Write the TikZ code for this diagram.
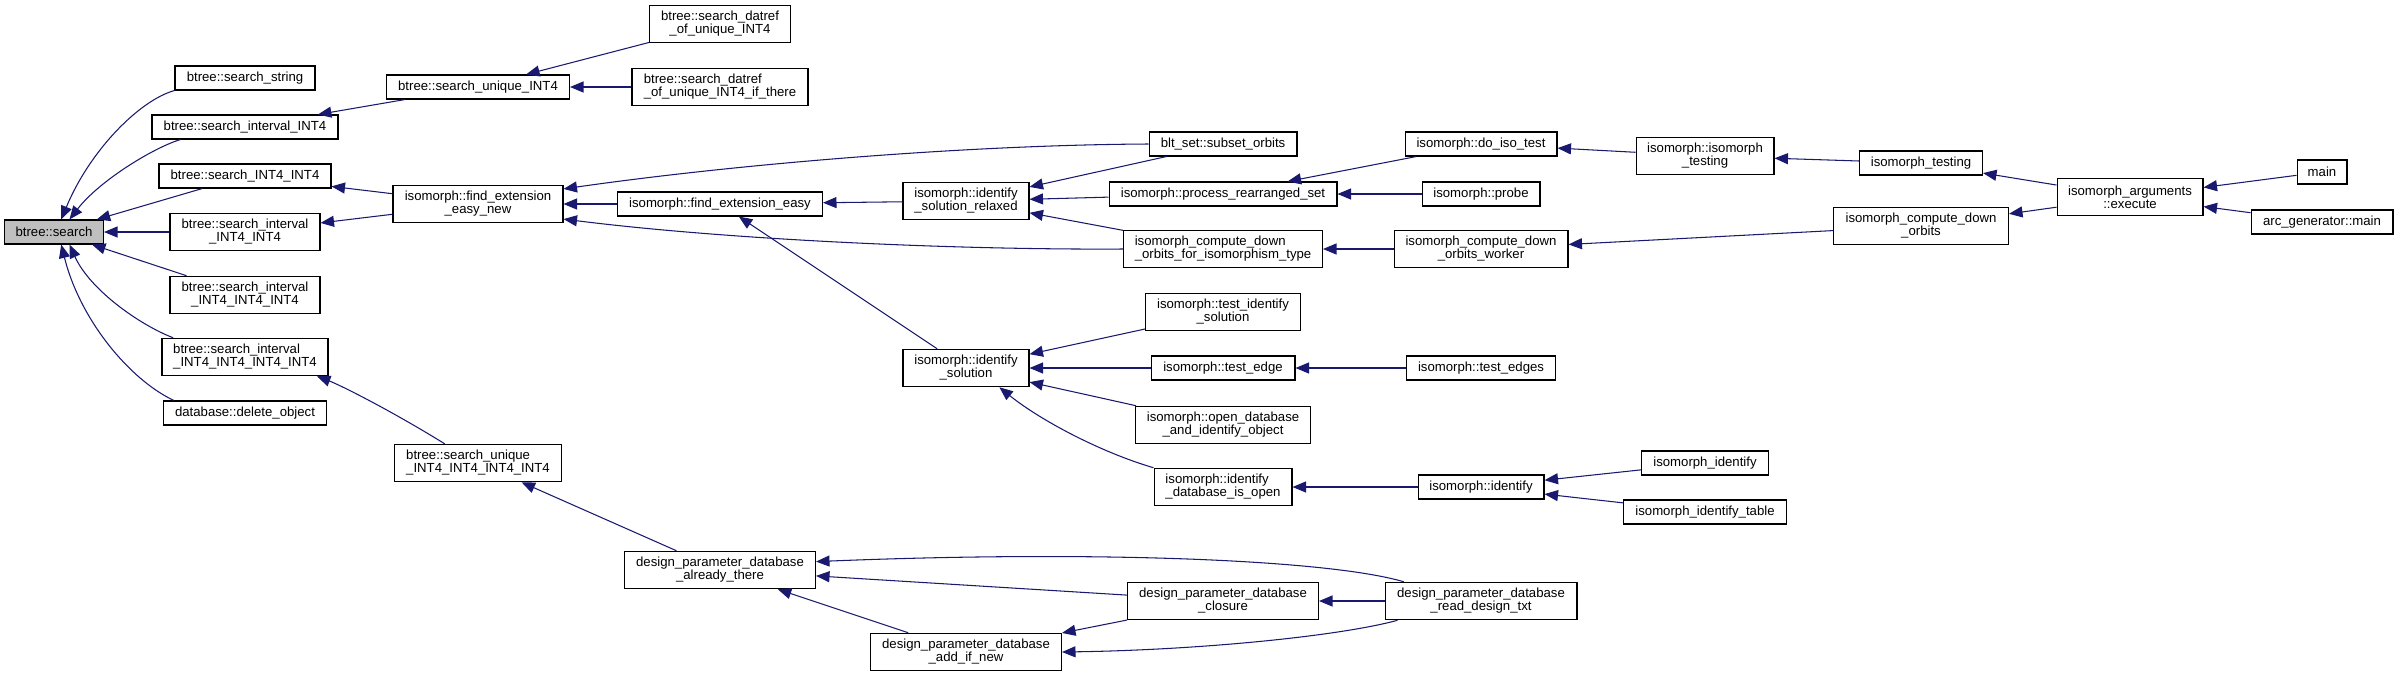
\documentclass[tikz,border=0pt]{standalone}
\usepackage{fontspec}
\setmainfont{Liberation Sans}
\usepackage{tikz}
\usetikzlibrary{arrows.meta}
\definecolor{edgeblue}{HTML}{191970}
\definecolor{rootgrey}{HTML}{BFBFBF}

\begin{document}
\begin{tikzpicture}[
  x=0.02cm,y=-0.02cm,
  fn/.style={draw=black,line width=0.6pt,fill=white,inner sep=1pt,minimum height=4.8mm,
             align=center,font=\fontsize{7.5}{7.4}\selectfont},
  fn2/.style={fn,minimum height=7.5mm},
  fnl/.style={fn2,align=left},
  root/.style={fn,fill=rootgrey},
  arr/.style={-{Triangle[length=2.7mm,width=2.2mm]},line width=0.6pt,color=edgeblue}
]
\path[use as bounding box,fill=white] (0,0) rectangle (2397,677);

\node[root,minimum width=19.8mm] (search) at (54,232) {btree::search};
\node[fn,minimum width=28mm] (sstring) at (245,78) {btree::search\_string};
\node[fn,minimum width=37.2mm] (sint) at (245,127) {btree::search\_interval\_INT4};
\node[fn,minimum width=34.4mm] (sii) at (245,176) {btree::search\_INT4\_INT4};
\node[fn2,minimum width=30mm] (sintii) at (245,232) {btree::search\_interval\\\_INT4\_INT4};
\node[fn2,minimum width=30mm] (sintiii) at (245,295) {btree::search\_interval\\\_INT4\_INT4\_INT4};
\node[fnl,minimum width=33.2mm] (sintiiii) at (245,357) {btree::search\_interval\\\_INT4\_INT4\_INT4\_INT4};
\node[fn,minimum width=32.6mm] (delobj) at (245,413) {database::delete\_object};

\node[fn,minimum width=36.6mm] (suniq) at (478,87) {btree::search\_unique\_INT4};
\node[fn2,minimum width=34mm] (fextnew) at (478,204) {isomorph::find\_extension\\\_easy\_new};
\node[fnl,minimum width=33.4mm] (suniqiiii) at (478,463) {btree::search\_unique\\\_INT4\_INT4\_INT4\_INT4};

\node[fn2,minimum width=28.2mm] (datref) at (720,24) {btree::search\_datref\\\_of\_unique\_INT4};
\node[fnl,minimum width=35.2mm] (datrefthere) at (720,87) {btree::search\_datref\\\_of\_unique\_INT4\_if\_there};
\node[fn,minimum width=41mm] (fext) at (720,204) {isomorph::find\_extension\_easy};
\node[fn2,minimum width=38.2mm] (already) at (720,570) {design\_parameter\_database\\\_already\_there};

\node[fn2,minimum width=25.2mm] (idrelax) at (966,201) {isomorph::identify\\\_solution\_relaxed};
\node[fn2,minimum width=25.2mm] (idsol) at (966,368) {isomorph::identify\\\_solution};
\node[fn2,minimum width=38.2mm] (addnew) at (966,652) {design\_parameter\_database\\\_add\_if\_new};

\node[fn,minimum width=29.6mm] (subset) at (1223,144) {blt\_set::subset\_orbits};
\node[fn,minimum width=45.6mm] (rearr) at (1223,194) {isomorph::process\_rearranged\_set};
\node[fnl,minimum width=39.8mm] (downtype) at (1223,249) {isomorph\_compute\_down\\\_orbits\_for\_isomorphism\_type};
\node[fn2,minimum width=31mm] (testid) at (1223,312) {isomorph::test\_identify\\\_solution};
\node[fn,minimum width=28.8mm] (testedge) at (1223,368) {isomorph::test\_edge};
\node[fn2,minimum width=35mm] (opendb) at (1223,425) {isomorph::open\_database\\\_and\_identify\_object};
\node[fnl,minimum width=27.6mm] (iddbopen) at (1223,487) {isomorph::identify\\\_database\_is\_open};
\node[fn2,minimum width=38.2mm] (closure) at (1223,601) {design\_parameter\_database\\\_closure};

\node[fn,minimum width=30.4mm] (isotest) at (1481,144) {isomorph::do\_iso\_test};
\node[fn,minimum width=23.6mm] (probe) at (1481,194) {isomorph::probe};
\node[fn2,minimum width=34.8mm] (worker) at (1481,249) {isomorph\_compute\_down\\\_orbits\_worker};
\node[fn,minimum width=29.8mm] (testedges) at (1481,368) {isomorph::test\_edges};
\node[fn,minimum width=25.2mm] (identify) at (1481,487) {isomorph::identify};
\node[fn2,minimum width=38.4mm] (readtxt) at (1481,601) {design\_parameter\_database\\\_read\_design\_txt};

\node[fn2,minimum width=27.6mm] (isotesting) at (1705,156) {isomorph::isomorph\\\_testing};
\node[fn,minimum width=25.4mm] (isoid) at (1705,463) {isomorph\_identify};
\node[fn,minimum width=32.6mm] (isoidtab) at (1705,512) {isomorph\_identify\_table};

\node[fn,minimum width=24.6mm] (testing) at (1921,163) {isomorph\_testing};
\node[fn2,minimum width=35mm] (downorb) at (1921,226) {isomorph\_compute\_down\\\_orbits};
\node[fn2,minimum width=29.2mm] (execute) at (2130,197) {isomorph\_arguments\\::execute};
\node[fn,minimum width=10mm] (main) at (2322,172) {main};
\node[fn,minimum width=28.4mm] (arcmain) at (2322,222) {arc\_generator::main};

% callers of btree::search
\draw[arr] (sstring.south west) .. controls (140,100) and (90,150) .. (search.60);
\draw[arr] (sint.191) .. controls (155,147) and (100,180) .. (search.39);
\draw[arr] (sii) -- (search);
\draw[arr] (sintii) -- (search);
\draw[arr] (sintiii) -- (search);
\draw[arr] (sintiiii.165) .. controls (140,325) and (90,290) .. (search.-39);
\draw[arr] (delobj.170) .. controls (130,380) and (80,320) .. (search.-60);

\draw[arr] (suniq) -- (sint);
\draw[arr] (fextnew) -- (sii);
\draw[arr] (fextnew) -- (sintii);
\draw[arr] (suniqiiii.150) .. controls (390,410) and (340,385) .. (sintiiii.-15);
\draw[arr] (datref) -- (suniq);
\draw[arr] (datrefthere) -- (suniq);
\draw[arr] (subset.west) .. controls (960,145) and (730,165) .. (fextnew.10);
\draw[arr] (fext) -- (fextnew);
\draw[arr] (downtype.west) .. controls (960,250) and (730,240) .. (fextnew.-10);
\draw[arr] (already) -- (suniqiiii);
\draw[arr] (idrelax) -- (fext);
\draw[arr] (idsol) -- (fext);
\draw[arr] (subset) -- (idrelax);
\draw[arr] (rearr) -- (idrelax);
\draw[arr] (downtype) -- (idrelax);
\draw[arr] (testid) -- (idsol);
\draw[arr] (testedge) -- (idsol);
\draw[arr] (opendb) -- (idsol);
\draw[arr] (iddbopen.north west) .. controls (1100,452) and (1040,420) .. (idsol.-30);
\draw[arr] (readtxt.166) .. controls (1330,560) and (1100,550) .. (already.5);
\draw[arr] (closure) -- (already);
\draw[arr] (addnew) -- (already);
\draw[arr] (closure) -- (addnew);
\draw[arr] (readtxt.193) .. controls (1340,636) and (1200,650) .. (addnew.east);
\draw[arr] (readtxt) -- (closure);

\draw[arr] (isotest) -- (rearr);
\draw[arr] (probe) -- (rearr);
\draw[arr] (worker) -- (downtype);
\draw[arr] (testedges) -- (testedge);
\draw[arr] (identify) -- (iddbopen);
\draw[arr] (isotesting) -- (isotest);
\draw[arr] (downorb) -- (worker);
\draw[arr] (isoid) -- (identify);
\draw[arr] (isoidtab) -- (identify);
\draw[arr] (testing) -- (isotesting);
\draw[arr] (execute) -- (testing);
\draw[arr] (execute) -- (downorb);
\draw[arr] (main) -- (execute);
\draw[arr] (arcmain) -- (execute);
\end{tikzpicture}
\end{document}
